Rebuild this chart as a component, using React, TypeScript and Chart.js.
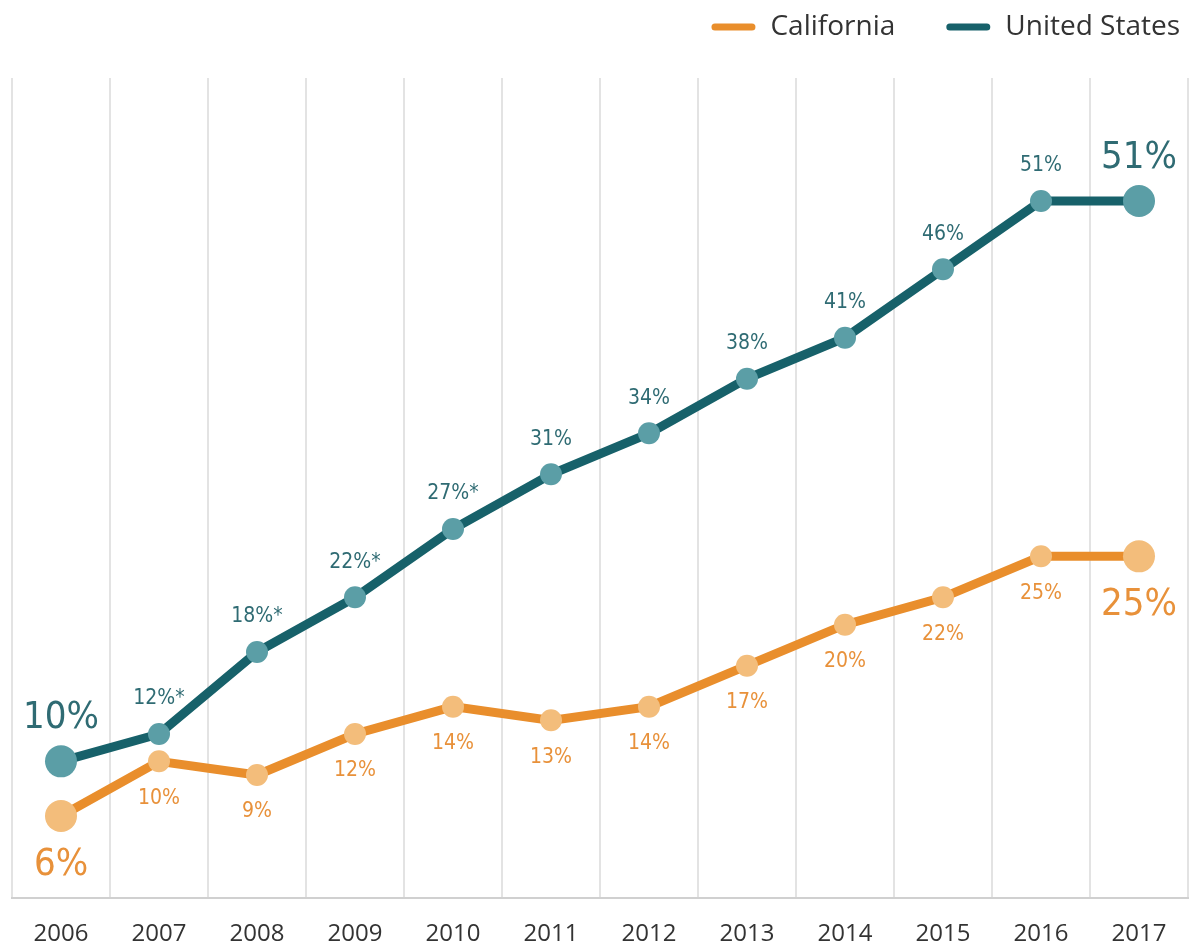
import React, { useEffect, useRef } from 'react';
import { Chart, registerables } from 'chart.js';

Chart.register(...registerables);

const years = ['2006', '2007', '2008', '2009', '2010', '2011', '2012', '2013', '2014', '2015', '2016', '2017'];
const california = [6, 10, 9, 12, 14, 13, 14, 17, 20, 22, 25, 25];
const unitedStates = [10, 12, 18, 22, 27, 31, 34, 38, 41, 46, 51, 51];
const usLabels = ['10%', '12%*', '18%*', '22%*', '27%*', '31%', '34%', '38%', '41%', '46%', '51%', '51%'];
const caLabels = ['6%', '10%', '9%', '12%', '14%', '13%', '14%', '17%', '20%', '22%', '25%', '25%'];

const US_LINE = '#17616a';
const US_POINT = '#5b9ea6';
const US_TEXT = '#2f6b73';
const CA_LINE = '#e98e2c';
const CA_POINT = '#f3bd7b';
const CA_TEXT = '#e8913a';
const NARROW = "'Liberation Sans Narrow', 'DejaVu Sans Condensed', 'Open Sans', sans-serif";
const SANS = "'Open Sans', 'DejaVu Sans', sans-serif";

const isEnd = (i: number) => i === 0 || i === years.length - 1;

const labelPlugin = {
  id: 'valueLabels',
  afterDatasetsDraw(chart: any) {
    const ctx = chart.ctx;
    ctx.save();
    ctx.textAlign = 'center';
    ctx.textBaseline = 'middle';
    chart.data.datasets.forEach((ds: any, di: number) => {
      const meta = chart.getDatasetMeta(di);
      const labels = di === 0 ? caLabels : usLabels;
      meta.data.forEach((pt: any, i: number) => {
        const big = isEnd(i);
        ctx.font = `${big ? 38 : 21}px ${NARROW}`;
        ctx.fillStyle = di === 0 ? CA_TEXT : US_TEXT;
        let dy: number;
        if (di === 0) dy = big ? 49 : 37;
        else dy = big ? -43 : -35;
        ctx.fillText(labels[i], pt.x, pt.y + dy);
      });
    });
    ctx.restore();
  },
};

const legendPlugin = {
  id: 'customLegend',
  afterDraw(chart: any) {
    const ctx = chart.ctx;
    ctx.save();
    ctx.font = `28px ${SANS}`;
    ctx.textBaseline = 'middle';
    ctx.textAlign = 'left';
    const y = 27;
    const lineW = 44;
    const gapLineText = 15;
    const gapItems = 51;
    let right = 1180;
    const items = chart.data.datasets.map((d: any) => ({ text: d.label, color: d.borderColor }));
    for (let k = items.length - 1; k >= 0; k--) {
      const it = items[k];
      const tw = ctx.measureText(it.text).width;
      const textX = right - tw;
      const lineEnd = textX - gapLineText;
      const lineStart = lineEnd - lineW;
      ctx.strokeStyle = it.color;
      ctx.lineWidth = 7;
      ctx.lineCap = 'round';
      ctx.beginPath();
      ctx.moveTo(lineStart + 3.5, y);
      ctx.lineTo(lineEnd - 3.5, y);
      ctx.stroke();
      ctx.fillStyle = '#333333';
      ctx.fillText(it.text, textX, y);
      right = lineStart - gapItems;
    }
    ctx.restore();
  },
};

export default function App() {
  const ref = useRef<HTMLCanvasElement | null>(null);

  useEffect(() => {
    if (!ref.current) return;
    const chart = new Chart(ref.current, {
      type: 'line',
      data: {
        labels: years,
        datasets: [
          {
            label: 'California',
            data: california,
            borderColor: CA_LINE,
            backgroundColor: CA_LINE,
            borderWidth: 9,
            pointBackgroundColor: CA_POINT,
            pointBorderWidth: 0,
            pointRadius: (c: any) => (isEnd(c.dataIndex) ? 16 : 11),
            tension: 0,
            clip: false,
          } as any,
          {
            label: 'United States',
            data: unitedStates,
            borderColor: US_LINE,
            backgroundColor: US_LINE,
            borderWidth: 9,
            pointBackgroundColor: US_POINT,
            pointBorderWidth: 0,
            pointRadius: (c: any) => (isEnd(c.dataIndex) ? 16 : 11),
            tension: 0,
            clip: false,
          } as any,
        ],
      },
      options: {
        animation: false,
        responsive: false,
        maintainAspectRatio: false,
        layout: { autoPadding: false, padding: { left: 12, right: 2, top: 78, bottom: 2 } } as any,
        plugins: {
          legend: { display: false },
          tooltip: { enabled: false },
        },
        scales: {
          x: {
            offset: true,
            afterFit: (s: any) => {
              s.height = 50;
            },
            grid: {
              offset: true,
              color: '#e3e3e3',
              lineWidth: 2,
              drawTicks: false,
            },
            border: { display: true, color: '#d0d0d0', width: 2 },
            ticks: {
              color: '#333333',
              font: { family: SANS, size: 24 },
              padding: 22,
            },
          } as any,
          y: {
            display: false,
            min: 0,
            max: 60,
          },
        },
      },
      plugins: [legendPlugin, labelPlugin],
    });
    return () => chart.destroy();
  }, []);

  return (
    <div style={{ position: 'fixed', left: 0, top: 0, width: 1190, height: 950, background: '#ffffff' }}>
      <canvas ref={ref} width={1190} height={950} style={{ width: 1190, height: 950 }} />
    </div>
  );
}
